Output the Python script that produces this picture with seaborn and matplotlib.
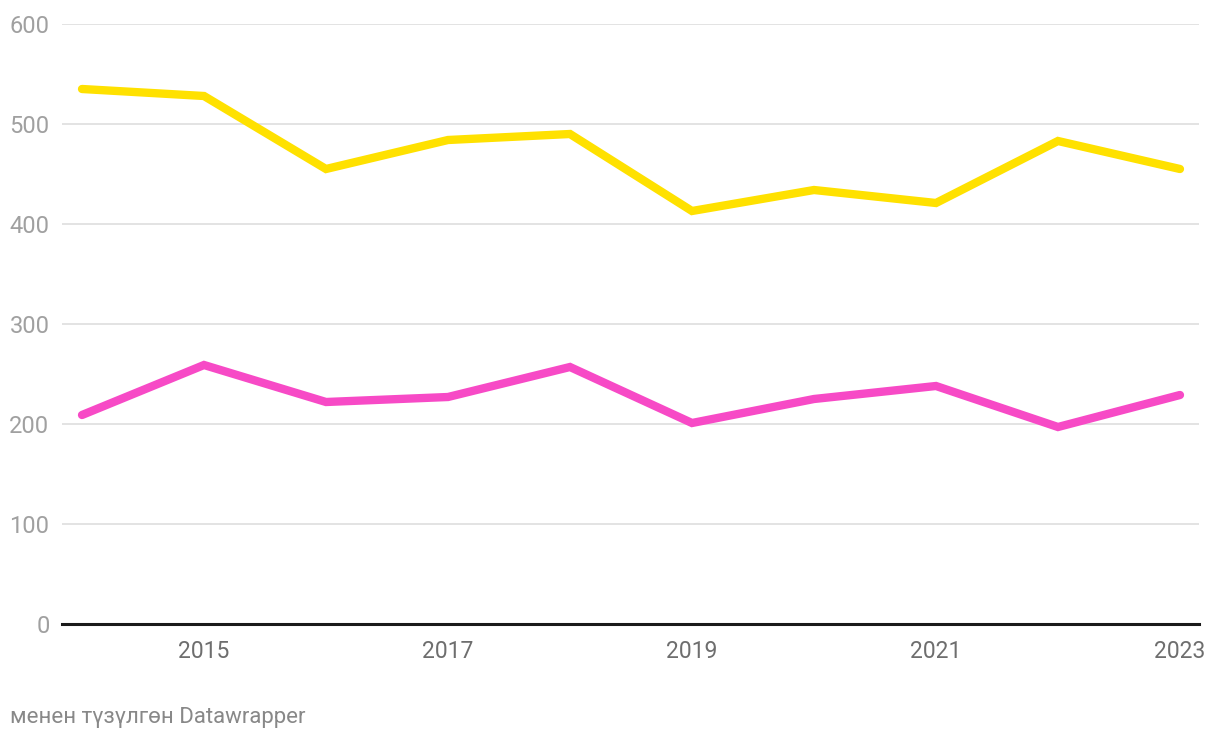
import matplotlib
matplotlib.use("Agg")
import matplotlib.pyplot as plt
import seaborn as sns
import pandas as pd

years = [2014, 2015, 2016, 2017, 2018, 2019, 2020, 2021, 2022, 2023]
yellow_values = [535, 528, 455, 484, 490, 413, 434, 421, 483, 455]
pink_values = [209, 259, 222, 227, 257, 201, 225, 238, 197, 229]
y_ticks = [0, 100, 200, 300, 400, 500, 600]
x_ticks = [2015, 2017, 2019, 2021, 2023]
footer = "менен түзүлгөн Datawrapper"

sns.set_theme(style="white")
plt.rcParams['font.family'] = ['Roboto', 'DejaVu Sans']

df = pd.DataFrame({
    "year": years * 2,
    "value": yellow_values + pink_values,
    "series": ["yellow"] * len(years) + ["pink"] * len(years),
})

fig = plt.figure(figsize=(12.2, 7.4), dpi=100)
ax = fig.add_axes([62 / 1220, 1 - 624 / 740, (1199 - 62) / 1220, 600 / 740])

sns.lineplot(data=df, x="year", y="value", hue="series",
             palette={"yellow": "#ffe100", "pink": "#f74ac6"},
             linewidth=6, legend=False, ax=ax, clip_on=False,
             solid_capstyle="round", solid_joinstyle="miter")

ax.set_xlim(2013.836, 2023.156)
ax.set_ylim(0, 600)
ax.set_yticks(y_ticks)
ax.set_xticks(x_ticks)
ax.set_xticklabels([str(x) for x in x_ticks])
ax.set_xlabel("")
ax.set_ylabel("")
ax.grid(axis="y", color="#e0e0e0", linewidth=1.3)
ax.grid(axis="x", visible=False)
ax.set_axisbelow(True)
for s in ["top", "right", "left"]:
    ax.spines[s].set_visible(False)
ax.spines["bottom"].set_color("#1a1a1a")
ax.spines["bottom"].set_linewidth(2.2)
ax.spines["bottom"].set_zorder(3)
ax.tick_params(axis="y", length=0, pad=9, labelsize=17, labelcolor="#a0a0a0")
ax.tick_params(axis="x", length=0, pad=11.5, labelsize=16.5, labelcolor="#6e6e6e")
for lab in ax.get_yticklabels():
    lab.set_horizontalalignment("right")

fig.text(10 / 1220, 1 - 717 / 740, footer, fontsize=16, color="#888888",
         ha="left", va="center")

fig.savefig("out.png", dpi=100)
